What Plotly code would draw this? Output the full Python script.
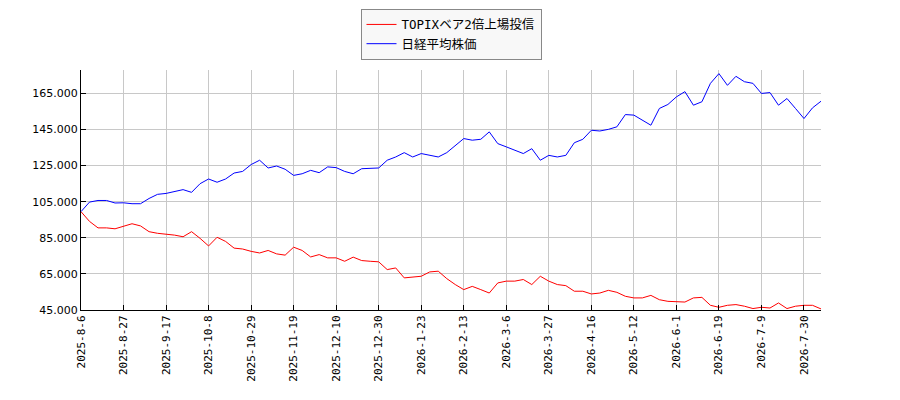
import plotly.graph_objects as go

# tick labels shown under the x axis (one every 5 samples)
tick_labels = ["2025-8-6", "2025-8-27", "2025-9-17", "2025-10-8", "2025-10-29",
               "2025-11-19", "2025-12-10", "2025-12-30", "2026-1-23", "2026-2-13",
               "2026-3-6", "2026-3-27", "2026-4-16", "2026-5-12", "2026-6-1",
               "2026-6-19", "2026-7-9", "2026-7-30"]

bear_name = "TOPIXベア2倍上場投信"
nikkei_name = "日経平均株価"

bear = [99500, 94100, 90500, 90500, 90000, 91400, 92800, 91600, 88400, 87500,
        87100, 86500, 85600, 88400, 84700, 80500, 85300, 83000, 79300, 78800,
        77500, 76600, 78000, 76100, 75400, 79800, 78000, 74400, 75700, 73900,
        73900, 72000, 74300, 72400, 72000, 71700, 67400, 68300, 62800, 63200,
        63700, 66100, 66500, 62400, 59100, 56300, 58100, 56300, 54400, 60000,
        61000, 61000, 61900, 59100, 63700, 61000, 59100, 58500, 55400, 55400,
        53900, 54400, 55900, 54800, 52600, 51700, 51700, 53100, 50700, 49800,
        49800, 49400, 51700, 52000, 47600, 46500, 47600, 48000, 47100, 45800,
        46500, 46100, 48900, 45800, 47100, 47600, 47600, 45600]

nikkei = [99500, 104800, 105700, 105700, 104300, 104400, 103900, 103900, 106800, 109100,
          109600, 110700, 111700, 110200, 115000, 117600, 115800, 117600, 120900, 121800,
          125600, 128000, 123700, 124800, 123000, 119600, 120500, 122400, 121100, 124300,
          123900, 121800, 120500, 123300, 123300, 123700, 128000, 129800, 132200, 129800,
          131700, 130700, 129800, 132200, 136300, 140000, 139100, 139600, 143700, 137200,
          135400, 133500, 131700, 134400, 128000, 130700, 129800, 130700, 137700, 139600,
          144600, 144200, 145100, 146500, 153300, 153000, 150200, 147400, 156700, 158900,
          163100, 166000, 158500, 160400, 170600, 176000, 169500, 174500, 171500, 170600,
          165000, 165500, 158500, 162200, 156700, 151100, 157000, 160700]

x = list(range(len(bear)))

fig = go.Figure()
fig.add_trace(go.Scatter(x=x, y=bear, mode="lines", name=bear_name,
                         line=dict(color="#ff0000", width=1)))
fig.add_trace(go.Scatter(x=x, y=nikkei, mode="lines", name=nikkei_name,
                         line=dict(color="#0000ff", width=1)))

# page body has an 8px margin, so the figure is a bit smaller than the window
fig.update_layout(
    width=892, height=392,
    margin=dict(l=73, r=79, t=62, b=90, autoexpand=False),
    paper_bgcolor="white", plot_bgcolor="white",
    separators=",.",
    font=dict(family="DejaVu Sans, Noto Sans CJK JP", size=11, color="#000000"),
    showlegend=True,
    legend=dict(x=0.5, y=1.255, xanchor="center", yanchor="top",
                bgcolor="#f8f8f8", bordercolor="#888888", borderwidth=1,
                tracegroupgap=0, itemwidth=30,
                font=dict(family="DejaVu Sans Mono, Noto Sans CJK JP", size=12.5)),
)
fig.update_xaxes(
    range=[0, len(x) - 1],
    tickmode="array", tickvals=x[::5], ticktext=tick_labels,
    tickangle=-90, ticks="inside", ticklen=5, tickcolor="#000000",
    showgrid=True, gridcolor="#c8c8c8", gridwidth=1,
    showline=True, linecolor="#000000", linewidth=1,
    zeroline=False,
    tickfont=dict(family="DejaVu Sans Mono", size=11),
)
fig.update_yaxes(
    range=[45000, 178000],
    tick0=45000, dtick=20000, tickformat=",d",
    ticks="inside", ticklen=5, tickcolor="#000000",
    showgrid=True, gridcolor="#c8c8c8", gridwidth=1,
    showline=True, linecolor="#000000", linewidth=1,
    zeroline=False,
    tickfont=dict(family="DejaVu Sans", size=11),
)

fig.write_html("out.html")
